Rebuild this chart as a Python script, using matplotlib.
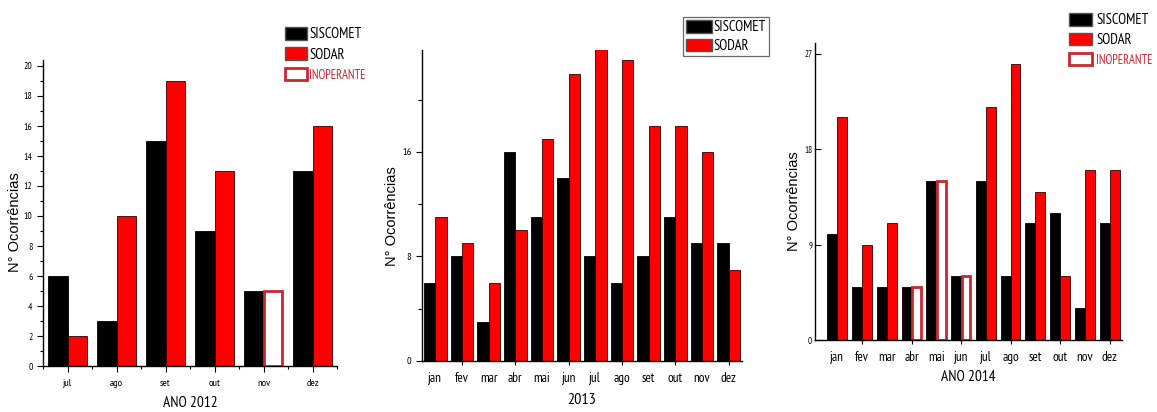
import matplotlib
matplotlib.use("Agg")
import matplotlib.pyplot as plt
from matplotlib.patches import Patch
from matplotlib import font_manager as fm
import numpy as np

# ---------------- data ----------------
months_2012 = ["jul", "ago", "set", "out", "nov", "dez"]
siscomet_2012 = [6, 3, 15, 9, 5, 13]
sodar_2012 = [2, 10, 19, 13, 5, 16]
inop_2012 = [False, False, False, False, True, False]

months_2013 = ["jan", "fev", "mar", "abr", "mai", "jun", "jul", "ago", "set", "out", "nov", "dez"]
siscomet_2013 = [6, 8, 3, 16, 11, 14, 8, 6, 8, 11, 9, 9]
sodar_2013 = [11, 9, 6, 10, 17, 22, 24, 23, 18, 18, 16, 7]

months_2014 = ["jan", "fev", "mar", "abr", "mai", "jun", "jul", "ago", "set", "out", "nov", "dez"]
siscomet_2014 = [10, 5, 5, 5, 15, 6, 15, 6, 11, 12, 3, 11]
sodar_2014 = [21, 9, 11, 5, 15, 6, 22, 26, 14, 6, 16, 16]
inop_2014 = [False, False, False, True, True, True, False, False, False, False, False, False]

ylabel = "N° Ocorrências"
legend_labels = ["SISCOMET", "SODAR", "INOPERANTE"]

# ---------------- fonts ----------------
names = {f.name for f in fm.fontManager.ttflist}
REG = "Liberation Sans" if "Liberation Sans" in names else "DejaVu Sans"
NARROW = REG
for cand in ["Arial Narrow", "Liberation Sans Narrow", "PT Sans Narrow",
             "Archivo Narrow", "Roboto Condensed", "Open Sans Condensed"]:
    if cand in names:
        NARROW = cand
        break
IS_NARROW = NARROW != REG
K = 1.0 if IS_NARROW else 0.8          # shrink factor when no narrow face exists
LEG_FS = 10.5 * K
INOP_FS = 9.0 * K
TICK_FS = 9.5 if IS_NARROW else 8.5
XLAB_FS = 11.0 if IS_NARROW else 10.0
YLAB_FS = 10.5

W, H = 1157, 412
fig = plt.figure(figsize=(W / 100, H / 100), dpi=100)
fig.patch.set_facecolor("white")

BLACK = "#000000"
RED = "#ff0000"
INOP = "#c8282e"


def px_rect(l, r, t, b):
    return [l / W, (H - b) / H, (r - l) / W, (b - t) / H]


def draw(ax, months, sis, sod, inop, width):
    x = np.arange(len(months))
    ax.bar(x - width / 2, sis, width, color=BLACK, edgecolor=BLACK, linewidth=0.6, zorder=2)
    for i, v in enumerate(sod):
        if inop is not None and inop[i]:
            ax.bar(x[i] + width / 2, v, width * 0.9, color="white", edgecolor=INOP,
                   linewidth=2.0, zorder=2)
        else:
            ax.bar(x[i] + width / 2, v, width, color=RED, edgecolor="#300000",
                   linewidth=0.6, zorder=2)
    for s in ("top", "right"):
        ax.spines[s].set_visible(False)
    for s in ("left", "bottom"):
        ax.spines[s].set_linewidth(1.0)
    ax.xaxis.remove_overlapping_locs = False
    return x


def add_legend(n, left_px, top_px, sq_w_px, sq_h_px, pitch_px, frame, pad_px=2):
    fs = LEG_FS
    em = fs * 100 / 72.0
    h = [Patch(facecolor=BLACK, edgecolor="#555555", linewidth=1.0),
         Patch(facecolor=RED, edgecolor="#555555", linewidth=1.0),
         Patch(facecolor="white", edgecolor=INOP, linewidth=2.0)][:n]
    row_h = max(sq_h_px, em * 1.0)
    leg = fig.legend(h, legend_labels[:n], loc="upper left",
                     bbox_to_anchor=(left_px / W, 1 - top_px / H),
                     frameon=frame, fancybox=False, edgecolor="#444444",
                     prop={"family": NARROW, "size": fs},
                     handlelength=sq_w_px / em, handleheight=sq_h_px / em,
                     handletextpad=pad_px / em,
                     labelspacing=max(0.05, (pitch_px - row_h) / em),
                     borderaxespad=0, borderpad=0.2 if frame else 0.0)
    if frame:
        leg.get_frame().set_linewidth(0.9)
    if n == 3:
        t = leg.get_texts()[2]
        t.set_color(INOP)
        t.set_fontsize(INOP_FS)
    return leg


# ---------------- panel 2012 ----------------
ax1 = fig.add_axes(px_rect(43, 337, 60, 366))
x1 = draw(ax1, months_2012, siscomet_2012, sodar_2012, inop_2012, 0.4)
ax1.set_xlim(-0.5, 5.5)
ax1.set_ylim(0, 20.4)
ax1.set_yticks(np.arange(0, 21, 2))
ax1.set_yticks(np.arange(1, 21, 2), minor=True)
ax1.set_xticks(x1, months_2012)
ax1.set_xticks(np.arange(-0.5, 6, 1.0), minor=True)
ax1.tick_params(axis="both", which="major", length=4, width=0.8)
ax1.tick_params(axis="both", which="minor", length=2.5, width=0.8)
ax1.tick_params(axis="x", labelsize=7.5, pad=5)
ax1.tick_params(axis="y", labelsize=7)
for lab in ax1.get_xticklabels() + ax1.get_yticklabels():
    lab.set_fontfamily(NARROW)
ax1.set_ylabel(ylabel, fontsize=YLAB_FS, fontfamily=REG)
ax1.yaxis.set_label_coords(-0.07, 0.47)
ax1.set_xlabel("ANO 2012", fontsize=XLAB_FS, fontfamily=NARROW, labelpad=6)
add_legend(3, 285, 27, 22, 14, 20.5, False)

# ---------------- panel 2013 ----------------
ax2 = fig.add_axes(px_rect(422, 742, 50, 361))
x2 = draw(ax2, months_2013, siscomet_2013, sodar_2013, None, 0.42)
ax2.set_xlim(-0.5, 11.5)
ax2.set_ylim(0, 23.8)
ax2.set_yticks([0, 8, 16])
ax2.set_yticks([4, 12, 20], minor=True)
ax2.set_xticks(x2, months_2013, minor=True)
ax2.set_xticks(x2[1::2], [""] * len(x2[1::2]))
ax2.tick_params(axis="x", which="minor", length=0, labelsize=TICK_FS, pad=8)
ax2.tick_params(axis="x", which="major", length=6, width=0.8, direction="inout")
ax2.tick_params(axis="y", which="major", length=4, width=0.8, labelsize=7.5)
ax2.tick_params(axis="y", which="minor", length=3, width=0.8)
for lab in ax2.get_xticklabels(minor=True) + ax2.get_yticklabels():
    lab.set_fontfamily(NARROW)
ax2.set_ylabel(ylabel, fontsize=YLAB_FS, fontfamily=REG)
ax2.yaxis.set_label_coords(-0.072, 0.466)
ax2.set_xlabel("2013", fontsize=XLAB_FS + 0.5, fontfamily=NARROW, labelpad=6)
add_legend(2, 683, 17, 26, 14, 19, True, pad_px=2)

# ---------------- panel 2014 ----------------
ax3 = fig.add_axes(px_rect(815, 1122, 43, 340))
x3 = draw(ax3, months_2014, siscomet_2014, sodar_2014, inop_2014, 0.4)
ax3.set_xlim(-0.9, 11.5)
ax3.set_ylim(0, 28.0)
ax3.set_yticks([0, 9, 18, 27])
ax3.set_xticks(x3, months_2014, minor=True)
ax3.set_xticks(x3[1::2], [""] * len(x3[1::2]))
ax3.tick_params(axis="x", which="minor", length=0, labelsize=TICK_FS, pad=8)
ax3.tick_params(axis="x", which="major", length=6, width=0.8, direction="inout")
ax3.tick_params(axis="y", which="major", length=4, width=0.8, labelsize=6.5,
                direction="in", pad=2)
for lab in ax3.get_xticklabels(minor=True) + ax3.get_yticklabels():
    lab.set_fontfamily(NARROW)
ax3.set_ylabel(ylabel, fontsize=YLAB_FS, fontfamily=REG)
ax3.yaxis.set_label_coords(-0.045, 0.468)
ax3.set_xlabel("ANO 2014", fontsize=XLAB_FS, fontfamily=NARROW, labelpad=4)
add_legend(3, 1069, 13, 23, 14, 20, False, pad_px=4)

fig.savefig("out.png", dpi=100, facecolor="white")
